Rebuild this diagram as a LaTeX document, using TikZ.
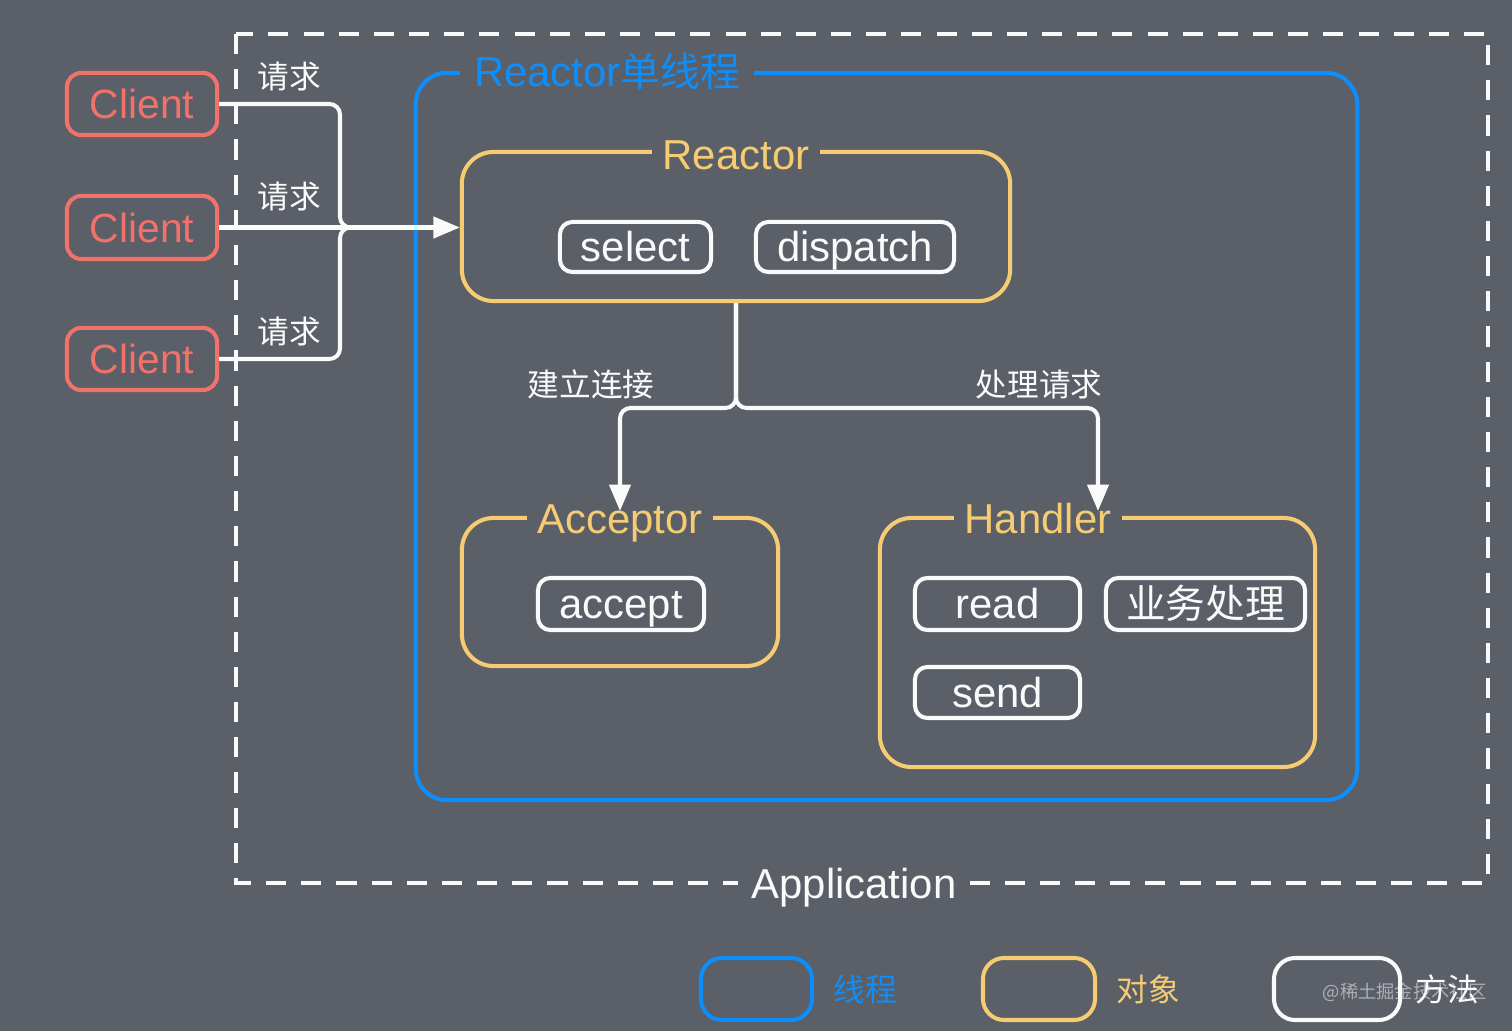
\documentclass[tikz,border=0pt]{standalone}
\usepackage{fontspec}
\setmainfont{Liberation Sans}
\newfontfamily\cjk{Noto Sans CJK SC}
\usetikzlibrary{arrows.meta}
\definecolor{bg}{RGB}{91,95,104}
\definecolor{tblue}{RGB}{14,142,250}
\definecolor{oyel}{RGB}{246,204,114}
\definecolor{cred}{RGB}{240,114,107}
\definecolor{mwhite}{RGB}{250,250,250}
\newcommand\myfs[1]{\fontsize{#1}{#1}\selectfont}
\begin{document}
\begin{tikzpicture}[x=0.01cm,y=-0.01cm,
  lw/.style={line width=1.15pt},
  thread/.style={draw=tblue,lw,rectangle,rounded corners=9pt,inner sep=0pt},
  object/.style={draw=oyel,lw,rectangle,rounded corners=9pt,inner sep=0pt},
  method/.style={draw=mwhite,lw,rectangle,rounded corners=3.5pt,text=mwhite,inner sep=0pt,
     font=\myfs{11.9pt},text height=8.5pt,text depth=0pt},
  client/.style={draw=cred,lw,rectangle,rounded corners=4pt,text=cred,inner sep=0pt,
     minimum width=1.5cm,font=\myfs{11.6pt},text height=8.3pt,text depth=0pt},
  ttl/.style={fill=bg,inner xsep=3pt,inner ysep=0pt,font=\myfs{11.9pt},text height=8.5pt,text depth=0pt},
  lbl/.style={text=mwhite,inner sep=0pt,font=\cjk\myfs{9pt},text height=6.6pt,text depth=0pt},
  flow/.style={draw=mwhite,lw,rounded corners=3pt},
  tip/.style={-{Triangle[length=7.5pt,width=6pt]}},
  legend/.style={lw,rectangle,rounded corners=6pt,minimum width=#1,minimum height=0.62cm,inner sep=0pt},
]
\useasboundingbox (0,0) rectangle (1512,1031);
\fill[bg] (0,0) rectangle (1512,1031);

% Application (dashed)
\draw[draw=mwhite,line width=1.2pt,dash pattern=on 5.7pt off 4.3pt] (236,34) rectangle (1488,883);
\node[ttl,text=mwhite,inner xsep=4pt] (app) at (854,884) {Application};

% thread box
\node[thread,minimum width=9.41cm,minimum height=7.27cm] (thr) at (886.5,436.5) {};
\node[ttl,text=tblue,inner xsep=4pt] (thrt) at (607,72) {Reactor{\cjk\myfs{11.3pt}单线程}};

% Reactor object
\node[object,minimum width=5.48cm,minimum height=1.49cm] (reactor) at (736,226.5) {};
\node[ttl,text=oyel] (reactort) at (736,155) {Reactor};
\node[method,minimum width=1.51cm,minimum height=0.5cm] (select) at (635.5,247) {select};
\node[method,minimum width=1.98cm,minimum height=0.5cm] (dispatch) at (855,247) {dispatch};

% Acceptor object
\node[object,minimum width=3.16cm,minimum height=1.48cm] (acceptor) at (620,592) {};
\node[ttl,text=oyel] (acceptort) at (620,519) {Acceptor};
\node[method,minimum width=1.66cm,minimum height=0.52cm] (accept) at (621,604) {accept};

% Handler object
\node[object,minimum width=4.35cm,minimum height=2.49cm] (handler) at (1097.5,642.5) {};
\node[ttl,text=oyel] (handlert) at (1038,519) {Handler};
\node[method,minimum width=1.65cm,minimum height=0.52cm] (read) at (997.5,604) {read};
\node[method,minimum width=1.99cm,minimum height=0.52cm,font=\cjk\myfs{11.3pt}] (biz) at (1205.5,604) {业务处理};
\node[method,minimum width=1.65cm,minimum height=0.51cm] (send) at (997.5,692.5) {send};

% Clients
\node[client,minimum height=0.62cm] (c1) at (142,104) {Client};
\node[client,minimum height=0.63cm] (c2) at (142,227.5) {Client};
\node[client,minimum height=0.62cm] (c3) at (142,359) {Client};

\node[lbl] (r1) at (289,77) {请求};
\node[lbl] (r2) at (289,197) {请求};
\node[lbl] (r3) at (289,332) {请求};

% client connectors
\coordinate (bus) at (340,227.5);
\coordinate (busr) at (365,227.5);
\draw[flow] (c1.east) -- (c1.east -| bus) -- (bus) -- (busr);
\draw[flow] (c3.east) -- (c3.east -| bus) -- (bus) -- (busr);
\draw[flow,tip] (c2.east) -- (c2.east -| reactor.west);

% reactor dispatch connectors
\coordinate (split) at (736,408);
\coordinate (aend) at (620,511);
\coordinate (hend) at (1098,511);
\draw[flow,tip] (reactor.south) -- (split) -- (split -| aend) -- (aend);
\draw[flow,tip] (reactor.south) -- (split) -- (split -| hend) -- (hend);
\node[lbl] (lconn) at (591,385) {建立连接};
\node[lbl] (lproc) at (1039,385) {处理请求};

% legend
\node[legend=1.11cm,draw=tblue] (lg1) at (756.5,989) {};
\node[lbl,text=tblue,anchor=west] (lg1t) at (833,990) {线程};
\node[legend=1.12cm,draw=oyel] (lg2) at (1039,989) {};
\node[lbl,text=oyel,anchor=west] (lg2t) at (1116,990) {对象};
\node[legend=1.26cm,draw=mwhite] (lg3) at (1337,989) {};
\node[lbl,text=mwhite,anchor=west] (lg3t) at (1415,990) {方法};
\node[text=white,opacity=0.5,inner sep=0pt,font=\cjk\myfs{5.2pt},anchor=west] (wm) at (1322,992) {@稀土掘金技术社区};
\end{tikzpicture}
\end{document}
